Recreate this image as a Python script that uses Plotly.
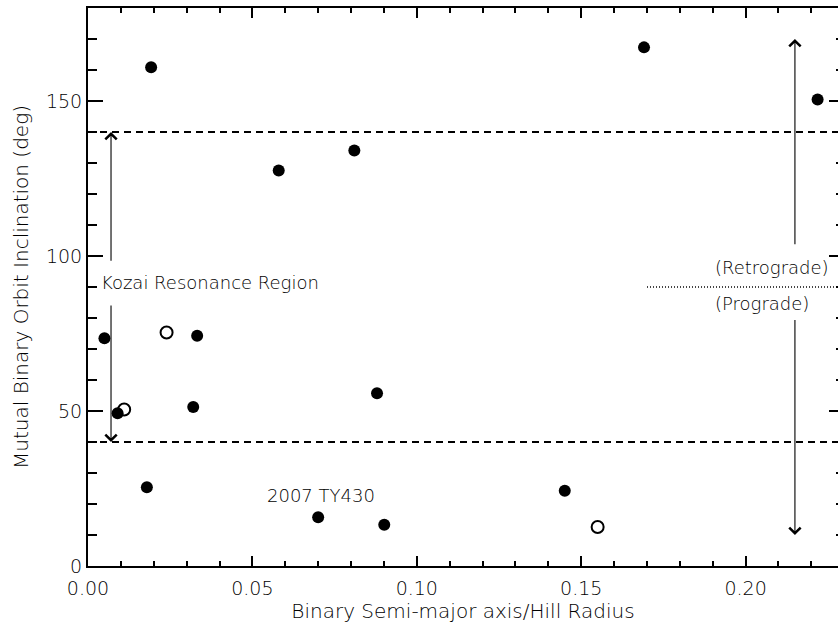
import plotly.graph_objects as go

# Data
filled_x = [0.005, 0.009, 0.0179, 0.0192, 0.032, 0.0332, 0.058, 0.070, 0.081, 0.0879, 0.0901, 0.145, 0.1691, 0.2219]
filled_y = [73.5, 49.3, 25.4, 160.9, 51.3, 74.3, 127.6, 15.7, 134.0, 55.7, 13.3, 24.3, 167.3, 150.5]
open_x = [0.011, 0.0239, 0.155]
open_y = [50.5, 75.3, 12.6]

kozai_limits = [40, 140]
pro_retro_y = 90

x_range = [0, 0.2281]
y_range = [0, 180]

FONT = "DejaVu Sans"
W = 300

fig = go.Figure()
fig.add_trace(go.Scatter(x=filled_x, y=filled_y, mode="markers",
                         marker=dict(symbol="circle", size=12, color="black"),
                         showlegend=False))
fig.add_trace(go.Scatter(x=open_x, y=open_y, mode="markers",
                         marker=dict(symbol="circle-open", size=12, color="black",
                                     line=dict(width=2, color="black")),
                         showlegend=False))
# invisible trace for right-side axis ticks
fig.add_trace(go.Scatter(x=[0.1], y=[90], yaxis="y2", mode="markers",
                         marker=dict(opacity=0), showlegend=False, hoverinfo="skip"))

for yv in kozai_limits:
    fig.add_shape(type="line", xref="paper", x0=0, x1=1, y0=yv, y1=yv, yref="y",
                  line=dict(color="black", width=2, dash="7px,5px"))

fig.add_shape(type="line", xref="x", x0=0.17, x1=x_range[1], y0=pro_retro_y, y1=pro_retro_y,
              yref="y", line=dict(color="black", width=1.5, dash="1px,2px"))

arrows = [
    (0.007, 140, 98), (0.007, 40, 84.5),
    (0.215, 170, 103.3), (0.215, 10, 79.8),
]
for xa, yhead, ytail in arrows:
    fig.add_annotation(x=xa, y=yhead, ax=xa, ay=ytail, xref="x", yref="y",
                       axref="x", ayref="y", text="", showarrow=True,
                       arrowhead=4, arrowsize=2.0, arrowwidth=1.1, arrowcolor="black")

texts = [
    ("Kozai Resonance Region", 0.0033, 91.4),
    ("2007 TY430", 0.0538, 22.6),
    ("(Retrograde)", 0.1901, 96.4),
    ("(Prograde)", 0.1901, 84.7),
]
for t, xt, yt in texts:
    fig.add_annotation(x=xt, y=yt, xref="x", yref="y", text=t, showarrow=False,
                       xanchor="left", yanchor="middle",
                       font=dict(family=FONT, size=18, color="black", weight=W))

fig.update_layout(
    width=838, height=624,
    margin=dict(l=88, r=0, t=8, b=58),
    paper_bgcolor="white", plot_bgcolor="white",
    font=dict(family=FONT, size=19, color="black", weight=W),
    xaxis=dict(range=x_range, showgrid=False, zeroline=False,
               showline=True, linecolor="black", linewidth=2, mirror="ticks",
               ticks="inside", ticklen=10, tickwidth=2, tickcolor="black",
               tick0=0, dtick=0.05, tickformat=".2f", ticklabelstandoff=4,
               minor=dict(ticks="inside", ticklen=5, tickwidth=1.5, dtick=0.01, tick0=0,
                          tickcolor="black", showgrid=False),
               title=dict(text="Binary Semi-major axis/Hill Radius", standoff=4,
                          font=dict(size=20, weight=W)),
               tickfont=dict(size=19, weight=W)),
    yaxis=dict(range=y_range, showgrid=False, zeroline=False,
               showline=True, linecolor="black", linewidth=2, mirror=False,
               ticks="inside", ticklen=15, tickwidth=2, tickcolor="black",
               tick0=0, dtick=50,
               minor=dict(ticks="inside", ticklen=8.5, tickwidth=1.5, dtick=10, tick0=0,
                          tickcolor="black", showgrid=False),
               title=dict(text="Mutual Binary Orbit Inclination (deg)", standoff=12,
                          font=dict(size=20, weight=W)),
               tickfont=dict(size=19, weight=W)),
    yaxis2=dict(range=y_range, overlaying="y", side="right", anchor="x",
                showgrid=False, zeroline=False, showline=False,
                ticks="inside", ticklen=9, tickwidth=2, tickcolor="black",
                tick0=0, dtick=50, showticklabels=False,
                minor=dict(ticks="inside", ticklen=2, tickwidth=1.5, dtick=10, tick0=0,
                           tickcolor="black", showgrid=False)),
)

fig.write_html("out.html")
